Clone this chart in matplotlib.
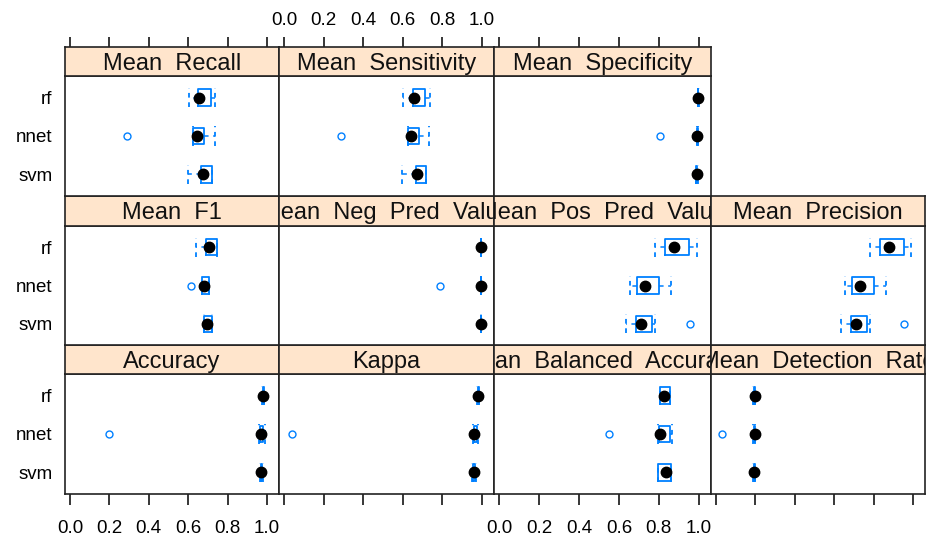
import matplotlib
matplotlib.use("Agg")
import matplotlib.pyplot as plt

plt.rcParams['font.family'] = ['Liberation Sans', 'DejaVu Sans']

# ---------------- data ----------------
metrics = ["Accuracy", "Kappa", "Mean  Balanced  Accuracy", "Mean  Detection  Rate",
           "Mean  F1", "Mean  Neg  Pred  Value", "Mean  Pos  Pred  Value", "Mean  Precision",
           "Mean  Recall", "Mean  Sensitivity", "Mean  Specificity"]
models = ["rf", "nnet", "svm"]
model_pos = [3, 2, 1]

# five-number summaries, one entry per metric (same order as `metrics`)
rf_lo  = [0.975, 0.975, 0.805, 0.190, 0.638, 0.993, 0.780, 0.780, 0.603, 0.603, 0.995]
rf_q1  = [0.978, 0.978, 0.808, 0.193, 0.689, 0.994, 0.831, 0.831, 0.650, 0.650, 0.996]
rf_med = [0.981, 0.981, 0.825, 0.196, 0.706, 0.995, 0.877, 0.877, 0.655, 0.655, 0.997]
rf_q3  = [0.984, 0.984, 0.854, 0.198, 0.744, 0.996, 0.952, 0.952, 0.714, 0.714, 0.998]
rf_hi  = [0.987, 0.987, 0.858, 0.200, 0.744, 0.997, 0.992, 0.992, 0.738, 0.738, 0.999]

nnet_lo  = [0.962, 0.955, 0.798, 0.190, 0.669, 0.993, 0.655, 0.655, 0.626, 0.626, 0.989]
nnet_q1  = [0.966, 0.958, 0.802, 0.194, 0.669, 0.994, 0.693, 0.693, 0.626, 0.626, 0.990]
nnet_med = [0.968, 0.960, 0.805, 0.196, 0.680, 0.995, 0.730, 0.730, 0.643, 0.643, 0.992]
nnet_q3  = [0.982, 0.975, 0.854, 0.198, 0.706, 0.996, 0.802, 0.802, 0.680, 0.680, 0.994]
nnet_hi  = [0.990, 0.982, 0.864, 0.200, 0.706, 0.997, 0.862, 0.862, 0.734, 0.734, 0.996]
nnet_out = [0.200, 0.040, 0.552, 0.032, 0.615, 0.790, None, None, 0.290, 0.290, 0.806]

svm_lo  = [0.965, 0.950, 0.795, 0.188, 0.682, 0.993, 0.634, 0.634, 0.598, 0.598, 0.987]
svm_q1  = [0.968, 0.955, 0.797, 0.191, 0.682, 0.994, 0.687, 0.687, 0.665, 0.665, 0.988]
svm_med = [0.972, 0.960, 0.834, 0.194, 0.694, 0.995, 0.713, 0.713, 0.674, 0.674, 0.990]
svm_q3  = [0.976, 0.965, 0.859, 0.197, 0.719, 0.996, 0.765, 0.765, 0.720, 0.720, 0.992]
svm_hi  = [0.980, 0.970, 0.861, 0.200, 0.719, 0.997, 0.780, 0.780, 0.720, 0.720, 0.994]
svm_out = [None, None, None, None, None, None, 0.956, 0.956, None, None, None]

ticks = [0.0, 0.2, 0.4, 0.6, 0.8, 1.0]
tick_labels = ["0.0", "0.2", "0.4", "0.6", "0.8", "1.0"]

# ---------------- layout (pixels) ----------------
W, H = 927, 540
col_edges = [65, 279, 494, 711, 925]
strip_top = [47, 196, 345]
strip_bot = [76, 226, 374]
panel_bot = [196, 345, 494]
XLIM = (-0.025, 1.061)
YLIM = (0.44, 3.56)
BLUE = "#0080ff"
STRIP = "#ffe5cc"


def rect(x0, y0, x1, y1):
    return [x0 / W, 1 - y1 / H, (x1 - x0) / W, (y1 - y0) / H]


fig = plt.figure(figsize=(W / 100, H / 100), dpi=100)

summ = {
    "rf": (rf_lo, rf_q1, rf_med, rf_q3, rf_hi, [None] * len(metrics)),
    "nnet": (nnet_lo, nnet_q1, nnet_med, nnet_q3, nnet_hi, nnet_out),
    "svm": (svm_lo, svm_q1, svm_med, svm_q3, svm_hi, svm_out),
}

for i, name in enumerate(metrics):
    row = 2 - i // 4
    col = i % 4
    x0, x1 = col_edges[col], col_edges[col + 1]

    # panel
    ax = fig.add_axes(rect(x0, strip_bot[row], x1, panel_bot[row]))
    ax.set_xlim(*XLIM)
    ax.set_ylim(*YLIM)
    for sp in ax.spines.values():
        sp.set_linewidth(1.2)
        sp.set_color("#222222")

    for m, p in zip(models, model_pos):
        lo, q1, med, q3, hi, out = summ[m]
        fl = [out[i]] if out[i] is not None else []
        st = [dict(med=med[i], q1=q1[i], q3=q3[i], whislo=lo[i], whishi=hi[i], fliers=fl)]
        ax.bxp(st, positions=[p], widths=0.42, capwidths=0.5, orientation="horizontal",
               manage_ticks=False,
               boxprops=dict(color=BLUE, linewidth=1.3),
               whiskerprops=dict(color=BLUE, linewidth=1.1, linestyle=(0, (3, 3))),
               capprops=dict(color=BLUE, linewidth=1.3, linestyle=(0, (2.6, 2.6))),
               medianprops=dict(visible=False),
               flierprops=dict(marker="o", markersize=5, markerfacecolor="none",
                               markeredgecolor=BLUE, markeredgewidth=1.0))
        ax.plot([med[i]], [p], "o", color="black", markersize=7.5, zorder=5)

    ax.set_yticks(model_pos)
    if col == 0:
        ax.set_yticklabels(models, fontsize=13.5)
        ax.tick_params(axis="y", length=0, pad=9)
    else:
        ax.set_yticklabels([])
        ax.tick_params(axis="y", length=0)

    ax.set_xticks(ticks)
    if row == 2:
        ax.tick_params(axis="x", direction="out", length=8, width=1.1, bottom=True,
                       labelbottom=(col in (0, 2)), labelsize=13.5, pad=11)
        ax.set_xticklabels(tick_labels)
    else:
        ax.tick_params(axis="x", bottom=False, labelbottom=False)

    # strip
    sax = fig.add_axes(rect(x0, strip_top[row], x1, strip_bot[row]))
    sax.set_facecolor(STRIP)
    sax.set_xlim(*XLIM)
    sax.set_ylim(0, 1)
    sax.set_yticks([])
    for sp in sax.spines.values():
        sp.set_linewidth(1.2)
        sp.set_color("#222222")
    sax.text(0.5, 0.42, name, transform=sax.transAxes, ha="center", va="center",
             fontsize=17, clip_on=True, color="#111111")
    sax.set_xticks(ticks)
    if row == 0:
        sax.tick_params(axis="x", direction="out", length=7.5, width=1.1, top=True,
                        bottom=False, labelbottom=False, labeltop=(col == 1),
                        labelsize=13.5, pad=5.5)
        sax.set_xticklabels(tick_labels)
    else:
        sax.tick_params(axis="x", bottom=False, top=False, labelbottom=False)

fig.savefig("out.png", dpi=100)
